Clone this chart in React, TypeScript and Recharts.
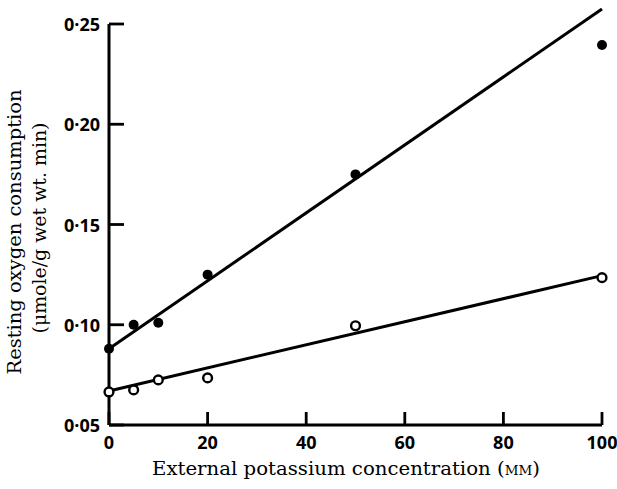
import React from "react";
import {
  Label,
  ReferenceLine,
  Scatter,
  ScatterChart,
  XAxis,
  YAxis,
} from "recharts";

// K+ concentration (mM) vs resting O2 consumption (µmole/g wet wt. min)
const concentrations = [0, 5, 10, 20, 50, 100];
const filledValues = [0.088, 0.1, 0.101, 0.125, 0.175, 0.2395];
const openValues = [0.0665, 0.0675, 0.0725, 0.0735, 0.0995, 0.1235];

// fitted lines, read at both ends
const fitEnds = [0, 100];
const filledFit = [0.088, 0.2575];
const openFit = [0.067, 0.1245];

const xTicks = [0, 20, 40, 60, 80, 100];
const yTicks = [0.05, 0.1, 0.15, 0.2, 0.25];

const filledPoints = concentrations.map((k, i) => ({ k, v: filledValues[i] }));
const openPoints = concentrations.map((k, i) => ({ k, v: openValues[i] }));

const tickFont = {
  fontFamily: "'Open Sans', sans-serif",
  fontSize: 18,
  fontWeight: 700,
  fill: "#000",
};
const titleFont = {
  fontFamily: "'DejaVu Serif', serif",
  fontSize: 19,
  fill: "#000",
};

function FilledDot({ cx, cy }: { cx?: number; cy?: number }) {
  return <circle cx={cx} cy={cy} r={5} fill="#000" />;
}

function OpenDot({ cx, cy }: { cx?: number; cy?: number }) {
  return (
    <circle cx={cx} cy={cy} r={4.4} fill="#fff" stroke="#000" strokeWidth={2.4} />
  );
}

// ticks point into the plot, labels sit outside
function XTick({ x, y, payload }: any) {
  return (
    <g>
      <line x1={x} x2={x} y1={y} y2={y - 13} stroke="#000" strokeWidth={2.8} />
      <text {...tickFont} x={x} y={y + 24} textAnchor="middle">
        {payload.value}
      </text>
    </g>
  );
}

function YTick({ x, y, payload }: any) {
  return (
    <g>
      <line x1={x} x2={x + 15} y1={y} y2={y} stroke="#000" strokeWidth={2.8} />
      <text {...tickFont} x={x - 9} y={y + 7} textAnchor="end">
        {payload.value.toFixed(2).replace(".", "·")}
      </text>
    </g>
  );
}

function YTitle() {
  return (
    <g>
      <text
        {...titleFont}
        transform="translate(21,232) rotate(-90)"
        textAnchor="middle"
        textLength={285}
        lengthAdjust="spacingAndGlyphs"
      >
        Resting oxygen consumption
      </text>
      <text
        {...titleFont}
        transform="translate(46,228) rotate(-90)"
        textAnchor="middle"
        textLength={211}
        lengthAdjust="spacingAndGlyphs"
      >
        (μmole/g wet wt. min)
      </text>
    </g>
  );
}

function XTitle() {
  return (
    <text
      {...titleFont}
      x={152}
      y={475}
      textLength={388}
      lengthAdjust="spacingAndGlyphs"
    >
      External potassium concentration (
      <tspan style={{ fontVariant: "small-caps" }}>mm</tspan>)
    </text>
  );
}

export default function App() {
  return (
    <div style={{ position: "absolute", left: 0, top: 0, background: "#fff" }}>
      <ScatterChart
        width={617}
        height={489}
        margin={{ top: 24, right: 15, bottom: 34, left: 49 }}
      >
        <XAxis
          type="number"
          dataKey="k"
          domain={[0, 100]}
          ticks={xTicks}
          height={30}
          tickSize={0}
          tickMargin={0}
          tick={XTick}
          axisLine={{ stroke: "#000", strokeWidth: 3 }}
          tickLine={false}
        >
          <Label content={XTitle} />
        </XAxis>
        <YAxis
          type="number"
          dataKey="v"
          domain={[0.05, 0.25]}
          ticks={yTicks}
          width={60}
          tickSize={0}
          tickMargin={0}
          tick={YTick}
          axisLine={{ stroke: "#000", strokeWidth: 3 }}
          tickLine={false}
        >
          <Label content={YTitle} />
        </YAxis>
        <ReferenceLine
          segment={[
            { x: fitEnds[0], y: filledFit[0] },
            { x: fitEnds[1], y: filledFit[1] },
          ]}
          ifOverflow="visible"
          stroke="#000"
          strokeWidth={3}
        />
        <ReferenceLine
          segment={[
            { x: fitEnds[0], y: openFit[0] },
            { x: fitEnds[1], y: openFit[1] },
          ]}
          ifOverflow="visible"
          stroke="#000"
          strokeWidth={3}
        />
        <Scatter data={filledPoints} shape={FilledDot} isAnimationActive={false} />
        <Scatter data={openPoints} shape={OpenDot} isAnimationActive={false} />
      </ScatterChart>
    </div>
  );
}
